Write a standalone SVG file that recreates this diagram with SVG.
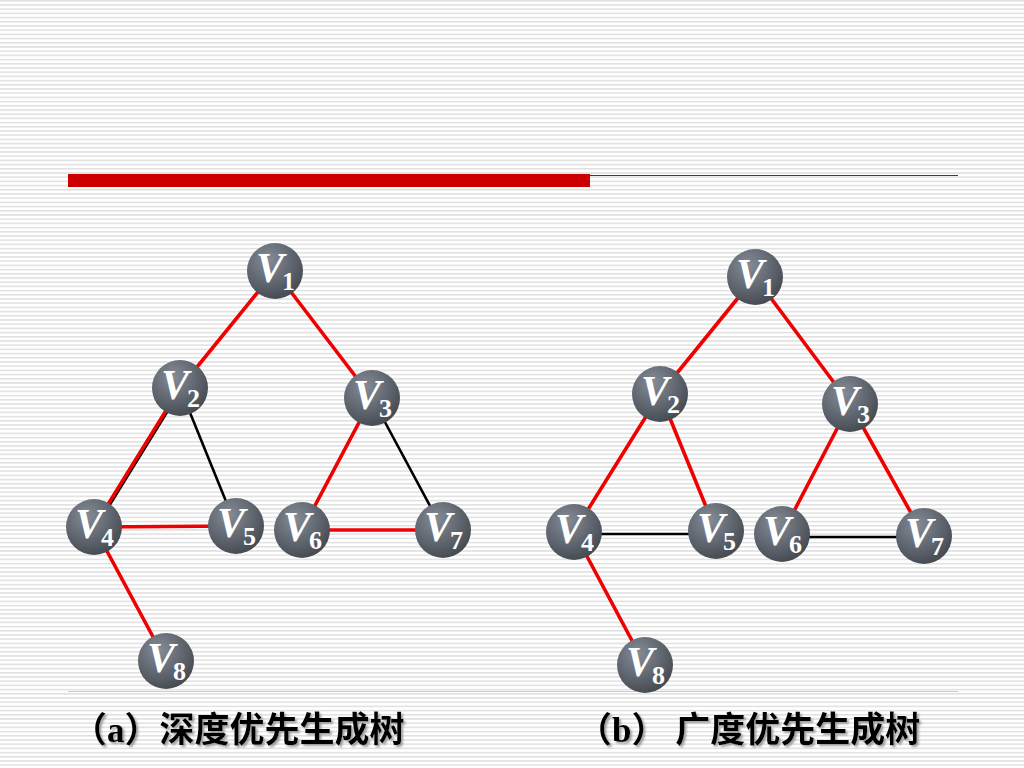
<svg xmlns="http://www.w3.org/2000/svg" width="1024" height="768" viewBox="0 0 1024 768">
<defs>
<pattern id="stripes" x="0" y="0" width="8" height="4.2" patternUnits="userSpaceOnUse">
<rect x="0" y="0" width="8" height="4.2" fill="#ffffff"/>
<rect x="0" y="0" width="8" height="1.5" fill="#e0e0e0"/>
</pattern>
<radialGradient id="ball" cx="0.38" cy="0.3" r="0.75">
<stop offset="0" stop-color="#868c95"/>
<stop offset="0.6" stop-color="#5e646d"/>
<stop offset="1" stop-color="#43484f"/>
</radialGradient>
<filter id="shadow" x="-10%" y="-20%" width="130%" height="150%">
<feDropShadow dx="2" dy="2" stdDeviation="0.8" flood-color="#888888" flood-opacity="0.8"/>
</filter>
</defs>
<style>
.red{stroke:#f00000;stroke-width:3.6;fill:none;stroke-linecap:round}
.blk{stroke:#000000;stroke-width:2.6;fill:none;stroke-linecap:round}
.node circle{fill:url(#ball)}
.v{font-family:"Liberation Serif","Times New Roman",serif;font-style:italic;font-weight:bold;font-size:42px;fill:#ffffff}
.sub{font-family:"Liberation Serif","Times New Roman",serif;font-weight:bold;font-size:26px;fill:#ffffff}
.cap{font-family:"Liberation Serif","Noto Sans CJK SC",serif;font-weight:bold;font-size:35px;fill:#000000}
</style>
<rect x="0" y="0" width="1024" height="768" fill="url(#stripes)"/>
<rect x="68" y="174" width="522" height="13" fill="#cc0000"/>
<line x1="590" y1="175.5" x2="958" y2="175.5" stroke="#cc0000" stroke-width="1.2"/>
<line x1="68" y1="691.5" x2="958" y2="691.5" stroke="#dcc4c4" stroke-width="1"/>

<g id="connectors">
<!-- left: depth-first -->
<line class="red" x1="275" y1="271" x2="180" y2="388"/>
<line class="red" x1="275" y1="271" x2="372" y2="398"/>
<line class="blk" x1="181" y1="389.5" x2="95.5" y2="528"/>
<line class="red" x1="180" y1="388" x2="94" y2="527"/>
<line class="blk" x1="180" y1="388" x2="236" y2="526"/>
<line class="red" x1="94" y1="527" x2="236" y2="526"/>
<line class="red" x1="94" y1="527" x2="166" y2="661"/>
<line class="red" x1="372" y1="398" x2="302" y2="530"/>
<line class="blk" x1="372" y1="398" x2="443" y2="530"/>
<line class="red" x1="302" y1="530" x2="443" y2="530"/>
<!-- right: breadth-first -->
<line class="red" x1="755" y1="277" x2="660" y2="394"/>
<line class="red" x1="755" y1="277" x2="850" y2="404"/>
<line class="red" x1="660" y1="394" x2="574" y2="532"/>
<line class="red" x1="660" y1="394" x2="716" y2="531"/>
<line class="blk" x1="574" y1="534" x2="716" y2="534"/>
<line class="red" x1="574" y1="532" x2="645" y2="665"/>
<line class="red" x1="850" y1="404" x2="782" y2="534"/>
<line class="red" x1="850" y1="404" x2="924" y2="536"/>
<line class="blk" x1="782" y1="537" x2="924" y2="537"/>
</g>

<g id="a-v1" class="node"><circle cx="275" cy="271" r="28"/><text class="v" x="256" y="282">V</text><text class="sub" x="282" y="290">1</text></g>
<g id="a-v2" class="node"><circle cx="180" cy="388" r="28"/><text class="v" x="161" y="399">V</text><text class="sub" x="187" y="407">2</text></g>
<g id="a-v3" class="node"><circle cx="372" cy="398" r="28"/><text class="v" x="353" y="409">V</text><text class="sub" x="379" y="417">3</text></g>
<g id="a-v4" class="node"><circle cx="94" cy="527" r="28"/><text class="v" x="75" y="538">V</text><text class="sub" x="101" y="546">4</text></g>
<g id="a-v5" class="node"><circle cx="236" cy="526" r="28"/><text class="v" x="217" y="537">V</text><text class="sub" x="243" y="545">5</text></g>
<g id="a-v6" class="node"><circle cx="302" cy="530" r="28"/><text class="v" x="283" y="541">V</text><text class="sub" x="309" y="549">6</text></g>
<g id="a-v7" class="node"><circle cx="443" cy="530" r="28"/><text class="v" x="424" y="541">V</text><text class="sub" x="450" y="549">7</text></g>
<g id="a-v8" class="node"><circle cx="166" cy="661" r="28"/><text class="v" x="147" y="672">V</text><text class="sub" x="173" y="680">8</text></g>

<g id="b-v1" class="node"><circle cx="755" cy="277" r="28"/><text class="v" x="736" y="288">V</text><text class="sub" x="762" y="296">1</text></g>
<g id="b-v2" class="node"><circle cx="660" cy="394" r="28"/><text class="v" x="641" y="405">V</text><text class="sub" x="667" y="413">2</text></g>
<g id="b-v3" class="node"><circle cx="850" cy="404" r="28"/><text class="v" x="831" y="415">V</text><text class="sub" x="857" y="423">3</text></g>
<g id="b-v4" class="node"><circle cx="574" cy="532" r="28"/><text class="v" x="555" y="543">V</text><text class="sub" x="581" y="551">4</text></g>
<g id="b-v5" class="node"><circle cx="716" cy="531" r="28"/><text class="v" x="697" y="542">V</text><text class="sub" x="723" y="550">5</text></g>
<g id="b-v6" class="node"><circle cx="782" cy="534" r="28"/><text class="v" x="763" y="545">V</text><text class="sub" x="789" y="553">6</text></g>
<g id="b-v7" class="node"><circle cx="924" cy="536" r="28"/><text class="v" x="905" y="547">V</text><text class="sub" x="931" y="555">7</text></g>
<g id="b-v8" class="node"><circle cx="645" cy="665" r="28"/><text class="v" x="626" y="676">V</text><text class="sub" x="652" y="684">8</text></g>

<text class="cap" x="72" y="742" filter="url(#shadow)">（a）深度优先生成树</text>
<text class="cap" x="577" y="742" filter="url(#shadow)">（b） 广度优先生成树</text>
</svg>
